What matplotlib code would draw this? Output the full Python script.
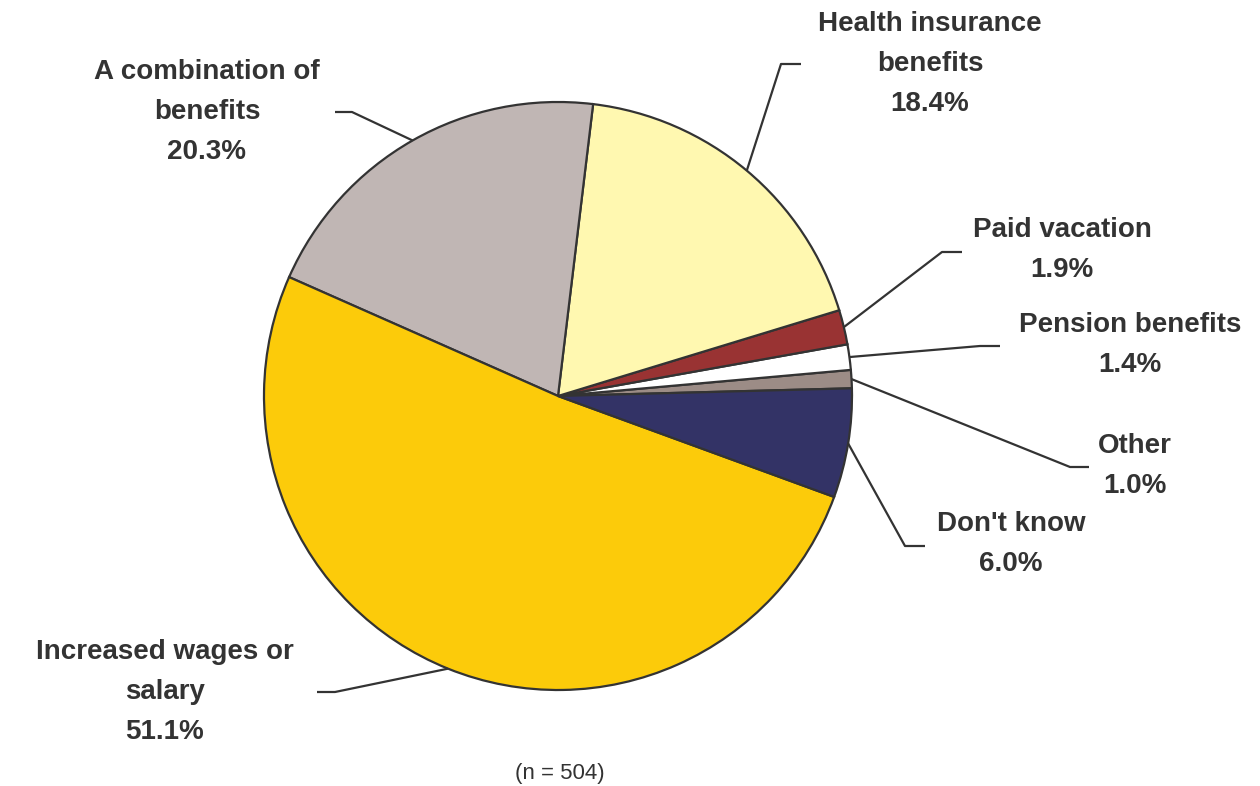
import numpy as np
import matplotlib.pyplot as plt

# slices in drawing order (counterclockwise from just above 3 o'clock)
labels = ['Other', 'Pension benefits', 'Paid vacation', 'Health insurance\nbenefits',
          'A combination of\nbenefits', 'Increased wages or\nsalary', "Don't know"]
values = [1.0, 1.4, 1.9, 18.4, 20.3, 51.1, 6.0]
colors = ['#9c8c86', '#ffffff', '#993333', '#fff8b0', '#c0b6b4', '#fccb0a', '#333366']

# label layout in pixel coords (y down): text centre, elbow of leader, end of leader
text_pos = [(1135, 466), (1130, 345), (1062, 250), (930, 64), (207, 112), (165, 692), (1011, 544)]
elbow = [(1070, 467), (980, 346), (942, 252), (781, 64), (352, 112), (335, 692), (905, 546)]
line_end = [(1089, 467), (1000, 346), (962, 252), (801, 64), (335, 112), (317, 692), (925, 546)]

W, H = 1260, 786
ink = '#333333'


def fy(y):
    return H - y


fig = plt.figure(figsize=(12.6, 7.86), dpi=100)
ax = fig.add_axes([0, 0, 1, 1])

cx, cy, r = 558, fy(396), 294
wedges, _ = ax.pie(values, colors=colors, startangle=1.5, center=(cx, cy), radius=r,
                   wedgeprops=dict(edgecolor=ink, linewidth=1.6), frame=True)
ax.set_xlim(0, W)
ax.set_ylim(0, H)
ax.set_aspect('equal')
ax.axis('off')

for w, lab, v, tp, el, le in zip(wedges, labels, values, text_pos, elbow, line_end):
    ang = np.deg2rad((w.theta1 + w.theta2) / 2)
    x0, y0 = cx + r * np.cos(ang), cy + r * np.sin(ang)
    ax.plot([x0, el[0], le[0]], [y0, fy(el[1]), fy(le[1])], color=ink, lw=1.6,
            solid_capstyle='butt')
    ax.text(tp[0], fy(tp[1]), f'{lab}\n{v:.1f}%', ha='center', va='center',
            fontsize=20, fontweight='bold', color=ink, family='Liberation Sans',
            linespacing=1.68)

ax.text(560, fy(773), '(n = 504)', ha='center', va='center', fontsize=16,
        color=ink, family='Liberation Sans')

fig.savefig('out.png', dpi=100)
